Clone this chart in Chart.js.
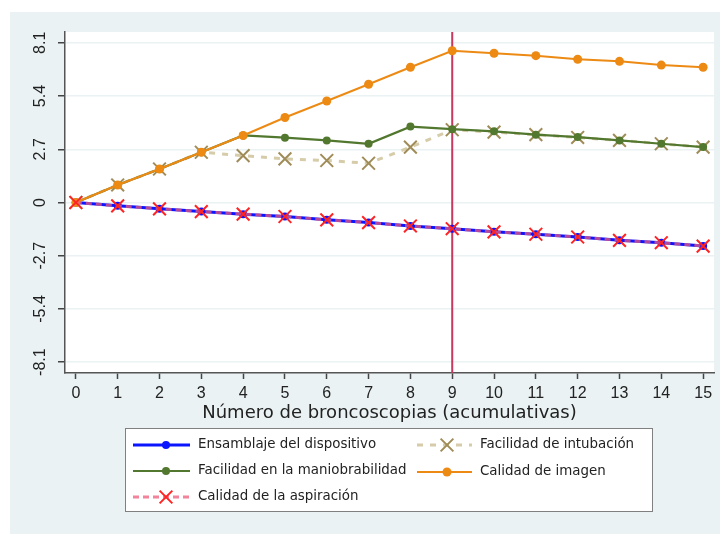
<!DOCTYPE html>
<html lang="es">
<head>
<meta charset="UTF-8">
<title>Curva de aprendizaje</title>
<style>
  html, body { margin: 0; padding: 0; background: #fff; }
  canvas { display: block; }
</style>
</head>
<body>
<canvas id="chart" width="725" height="534"></canvas>
<script src="https://cdn.jsdelivr.net/npm/chart.js@4.4.0/dist/chart.umd.min.js"></script>
<script>
// datos
const broncoscopias = [0, 1, 2, 3, 4, 5, 6, 7, 8, 9, 10, 11, 12, 13, 14, 15];
const ensamblaje = [0, -0.17, -0.32, -0.46, -0.59, -0.71, -0.88, -1.02, -1.19, -1.33, -1.49, -1.61, -1.75, -1.92, -2.04, -2.21];
const maniobrabilidad = [0, 0.89, 1.70, 2.55, 3.40, 3.29, 3.15, 2.98, 3.85, 3.72, 3.61, 3.44, 3.32, 3.15, 2.98, 2.81];
const aspiracion = [0, -0.17, -0.32, -0.46, -0.59, -0.71, -0.88, -1.02, -1.19, -1.33, -1.49, -1.61, -1.75, -1.92, -2.04, -2.21];
const intubacion = [0, 0.89, 1.70, 2.55, 2.38, 2.21, 2.13, 1.99, 2.81, 3.69, 3.57, 3.44, 3.30, 3.15, 2.98, 2.81];
const imagen = [0, 0.89, 1.70, 2.55, 3.40, 4.31, 5.15, 6.00, 6.86, 7.70, 7.57, 7.45, 7.27, 7.16, 6.97, 6.86];
const yTicks = [-8.1, -5.4, -2.7, 0, 2.7, 5.4, 8.1];
const lineaVertical = 9;

const pts = arr => arr.map((v, i) => ({ x: broncoscopias[i], y: v }));

const datasets = [
  {
    label: 'Ensamblaje del dispositivo', data: pts(ensamblaje), order: 4,
    borderColor: '#0b16ff', backgroundColor: '#0b16ff', borderWidth: 3,
    pointStyle: 'circle', pointRadius: 4, pointBorderWidth: 0
  },
  {
    label: 'Facilidad de intubación', data: pts(intubacion), order: 3,
    borderColor: '#d6ccaa', borderWidth: 3, borderDash: [6, 7],
    pointStyle: 'crossRot', pointRadius: 9, pointBorderWidth: 2,
    pointBorderColor: '#9f8c58', pointBackgroundColor: '#9f8c58'
  },
  {
    label: 'Facilidad en la maniobrabilidad', data: pts(maniobrabilidad), order: 2,
    borderColor: '#52782f', backgroundColor: '#52782f', borderWidth: 2.2,
    pointStyle: 'circle', pointRadius: 4, pointBorderWidth: 0
  },
  {
    label: 'Calidad de imagen', data: pts(imagen), order: 1,
    borderColor: '#ec8a14', backgroundColor: '#ec8a14', borderWidth: 2,
    pointStyle: 'circle', pointRadius: 4.5, pointBorderWidth: 0
  },
  {
    label: 'Calidad de la aspiración', data: pts(aspiracion), order: 0,
    borderColor: 'rgba(238,90,120,0.75)', borderWidth: 3, borderDash: [6, 4],
    pointStyle: 'crossRot', pointRadius: 9, pointBorderWidth: 2,
    pointBorderColor: '#ff2424', pointBackgroundColor: '#ff2424'
  }
];

// fondo, linea vertical y leyenda estilo Stata
const decor = {
  id: 'decor',
  beforeDraw(chart) {
    const { ctx, chartArea: a } = chart;
    ctx.save();
    ctx.fillStyle = '#fff';
    ctx.fillRect(0, 0, chart.width, chart.height);
    ctx.fillStyle = '#eaf2f3';
    ctx.fillRect(10, 12, 710, chart.height - 12);
    ctx.fillStyle = '#fff';
    ctx.fillRect(a.left, a.top, a.right - a.left, a.bottom - a.top);
    ctx.restore();
  },
  beforeDatasetsDraw(chart) {
    const { ctx, chartArea: a } = chart;
    const x = chart.scales.x.getPixelForValue(lineaVertical);
    ctx.save();
    ctx.strokeStyle = '#c9375f';
    ctx.lineWidth = 2;
    ctx.beginPath();
    ctx.moveTo(x, a.top);
    ctx.lineTo(x, a.bottom);
    ctx.stroke();
    ctx.restore();
  },
  afterDraw(chart) {
    const ctx = chart.ctx;
    ctx.save();
    ctx.fillStyle = '#fff';
    ctx.fillRect(125, 428, 528, 84);
    ctx.strokeStyle = '#808080';
    ctx.lineWidth = 1;
    ctx.strokeRect(125.5, 428.5, 527, 83);
    const slots = [
      [133, 190, 166, 445], [417, 472, 447, 445],
      [133, 190, 166, 471], [417, 472, 447, 472],
      [133, 190, 166, 497]
    ];
    ctx.font = '13.4px "DejaVu Sans"';
    ctx.textBaseline = 'middle';
    datasets.forEach((ds, i) => {
      const [x1, x2, xm, y] = slots[i];
      ctx.save();
      ctx.strokeStyle = ds.borderColor;
      ctx.lineWidth = ds.borderWidth;
      ctx.setLineDash(ds.borderDash || []);
      ctx.beginPath();
      ctx.moveTo(x1, y);
      ctx.lineTo(x2, y);
      ctx.stroke();
      ctx.restore();
      ctx.save();
      ctx.fillStyle = ds.pointBackgroundColor || ds.backgroundColor;
      ctx.strokeStyle = ds.pointBorderColor || ds.backgroundColor;
      ctx.lineWidth = ds.pointBorderWidth || 1;
      if (ds.pointStyle === 'circle') {
        ctx.beginPath();
        ctx.arc(xm, y, ds.pointRadius, 0, Math.PI * 2);
        ctx.fill();
      } else {
        const r = ds.pointRadius * Math.SQRT1_2;
        ctx.beginPath();
        ctx.moveTo(xm - r, y - r); ctx.lineTo(xm + r, y + r);
        ctx.moveTo(xm + r, y - r); ctx.lineTo(xm - r, y + r);
        ctx.stroke();
      }
      ctx.restore();
      ctx.fillStyle = '#222';
      ctx.fillText(ds.label, x2 + 8, y);
    });
    ctx.restore();
  }
};

new Chart(document.getElementById('chart'), {
  type: 'line',
  data: { datasets },
  options: {
    responsive: false,
    devicePixelRatio: 1,
    animation: false,
    events: [],
    layout: { padding: { left: 10, right: 11, top: 32, bottom: 110 } },
    elements: { line: { tension: 0 } },
    plugins: { legend: { display: false }, tooltip: { enabled: false } },
    scales: {
      x: {
        type: 'linear', min: -0.26, max: 15.26,
        afterBuildTicks: s => { s.ticks = broncoscopias.map(v => ({ value: v })); },
        afterFit: s => { s.height = 51; },
        grid: { drawOnChartArea: false, tickLength: 6, tickColor: '#444', tickWidth: 1.5 },
        border: { color: '#555', width: 1.5 },
        ticks: { font: { family: '"Liberation Sans"', size: 16 }, color: '#222', padding: 5, maxRotation: 0 },
        title: {
          display: true, text: 'Número de broncoscopias (acumulativas)',
          font: { family: '"DejaVu Sans"', size: 18 }, color: '#222', padding: { top: 0, bottom: 0 }
        }
      },
      y: {
        type: 'linear', min: -8.65, max: 8.65,
        afterBuildTicks: s => { s.ticks = yTicks.map(v => ({ value: v })); },
        afterFit: s => { s.width = 55; },
        grid: { color: '#eaf2f3', lineWidth: 1.5, tickLength: 7, tickColor: '#444', tickWidth: 1.5 },
        border: { color: '#555', width: 1.5 },
        ticks: {
          font: { family: '"Liberation Sans"', size: 16 }, color: '#222',
          minRotation: 90, maxRotation: 90, crossAlign: 'center', padding: 4,
          callback: v => (v === 0 ? '0' : v.toFixed(1))
        }
      }
    }
  },
  plugins: [decor]
});
</script>
</body>
</html>
